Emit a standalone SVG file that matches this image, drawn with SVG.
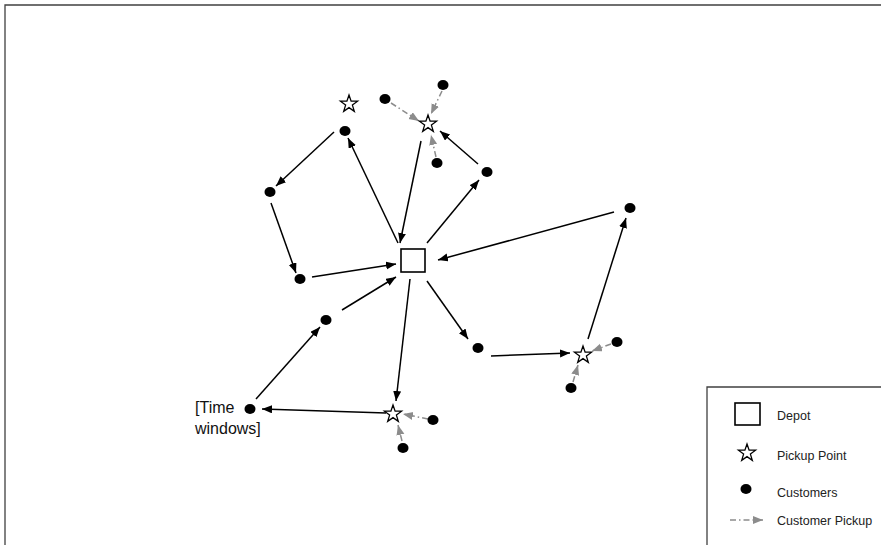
<svg xmlns="http://www.w3.org/2000/svg" width="881" height="545" viewBox="0 0 881 545">
<style>
.bg{fill:#fff}
.frame{stroke:#404040;stroke-width:1.3;fill:none}
.cust{fill:#000}
.star{fill:#fff;stroke:#000;stroke-width:1.3;stroke-linejoin:miter}
.depot{fill:#fff;stroke:#000;stroke-width:1.6}
.e{stroke:#000;stroke-width:1.5;fill:none;marker-end:url(#ah)}
.p{stroke:#8c8c8c;stroke-width:1.5;fill:none;stroke-dasharray:6 3 1.5 3;marker-end:url(#ag)}
.lbl{font-family:"Liberation Sans",Arial,sans-serif;font-size:12.5px;fill:#222}
.tw{font-family:"Liberation Sans",Arial,sans-serif;font-size:16px;fill:#111}
</style>
<defs>
<marker id="ah" markerUnits="userSpaceOnUse" markerWidth="12" markerHeight="10" refX="10" refY="4" orient="auto">
<path d="M0,0 L10,4 L0,8 z" fill="#000"/>
</marker>
<marker id="ag" markerUnits="userSpaceOnUse" markerWidth="12" markerHeight="10" refX="10" refY="4" orient="auto">
<path d="M0,0 L10,4 L0,8 z" fill="#8c8c8c"/>
</marker>
<path id="st" d="M0,-9 L2.1,-2.9 L8.6,-2.8 L3.4,1.1 L5.3,7.3 L0,3.6 L-5.3,7.3 L-3.4,1.1 L-8.6,-2.8 L-2.1,-2.9 z"/>
</defs>
<rect class="bg" x="0" y="0" width="881" height="545"/>
<path class="frame" d="M5,545 L5,5 L881,5"/>

<g id="connectors">
<line class="e" x1="398" y1="243" x2="348" y2="138"/>
<line class="e" x1="421" y1="141" x2="400" y2="243"/>
<line class="e" x1="427" y1="243" x2="479" y2="180"/>
<line class="e" x1="478" y1="164" x2="440" y2="131"/>
<line class="e" x1="334" y1="132" x2="276" y2="186"/>
<line class="e" x1="271" y1="203" x2="296" y2="273"/>
<line class="e" x1="312" y1="277" x2="396" y2="264"/>
<line class="e" x1="342" y1="310" x2="396" y2="277"/>
<line class="e" x1="256" y1="399" x2="320" y2="327"/>
<line class="e" x1="386" y1="413" x2="262" y2="409"/>
<line class="e" x1="410" y1="279" x2="396" y2="401"/>
<line class="e" x1="427" y1="281" x2="468" y2="339"/>
<line class="e" x1="491" y1="356" x2="570" y2="353"/>
<line class="e" x1="588" y1="339" x2="626" y2="218"/>
<line class="e" x1="614" y1="212" x2="438" y2="260"/>
<line class="p" x1="391" y1="103" x2="419" y2="121"/>
<line class="p" x1="442" y1="91" x2="431" y2="114"/>
<line class="p" x1="436" y1="157" x2="431" y2="135"/>
<line class="p" x1="428" y1="419" x2="403" y2="414"/>
<line class="p" x1="402" y1="441" x2="398" y2="425"/>
<line class="p" x1="611" y1="344" x2="592" y2="351"/>
<line class="p" x1="573" y1="382" x2="578" y2="365"/>
</g>

<g id="depot"><rect class="depot" x="401" y="249" width="24" height="23"/></g>

<g id="pickup-points">
<use href="#st" class="star" x="349" y="104"/>
<use href="#st" class="star" x="428" y="124"/>
<use href="#st" class="star" x="393" y="414"/>
<use href="#st" class="star" x="583" y="355"/>
</g>

<g id="customers">
<ellipse class="cust" cx="345" cy="131" rx="5.5" ry="5"/>
<ellipse class="cust" cx="385" cy="99" rx="5.5" ry="5"/>
<ellipse class="cust" cx="443" cy="85" rx="5.5" ry="5"/>
<ellipse class="cust" cx="437" cy="163" rx="5.5" ry="5"/>
<ellipse class="cust" cx="487" cy="172" rx="5.5" ry="5"/>
<ellipse class="cust" cx="270" cy="192" rx="5.5" ry="5"/>
<ellipse class="cust" cx="300" cy="279" rx="5.5" ry="5"/>
<ellipse class="cust" cx="326" cy="320" rx="5.5" ry="5"/>
<ellipse class="cust" cx="250" cy="409" rx="5.5" ry="5"/>
<ellipse class="cust" cx="433" cy="420" rx="5.5" ry="5"/>
<ellipse class="cust" cx="403" cy="448" rx="5.5" ry="5"/>
<ellipse class="cust" cx="478" cy="348" rx="5.5" ry="5"/>
<ellipse class="cust" cx="617" cy="342" rx="5.5" ry="5"/>
<ellipse class="cust" cx="571" cy="388" rx="5.5" ry="5"/>
<ellipse class="cust" cx="630" cy="208" rx="5.5" ry="5"/>
</g>

<g id="time-windows-label">
<text class="tw" x="195" y="413">[Time</text>
<text class="tw" x="195" y="434">windows]</text>
</g>

<g id="legend">
<path class="frame" d="M707,545 L707,387 L881,387"/>
<rect class="depot" x="735" y="403" width="25" height="22"/>
<text class="lbl" x="777" y="420">Depot</text>
<use href="#st" class="star" x="747" y="453"/>
<text class="lbl" x="777" y="460">Pickup Point</text>
<ellipse class="cust" cx="746" cy="489" rx="5.5" ry="5"/>
<text class="lbl" x="777" y="497">Customers</text>
<line class="p" x1="730" y1="520" x2="763" y2="520"/>
<text class="lbl" x="777" y="525">Customer Pickup</text>
</g>
</svg>
